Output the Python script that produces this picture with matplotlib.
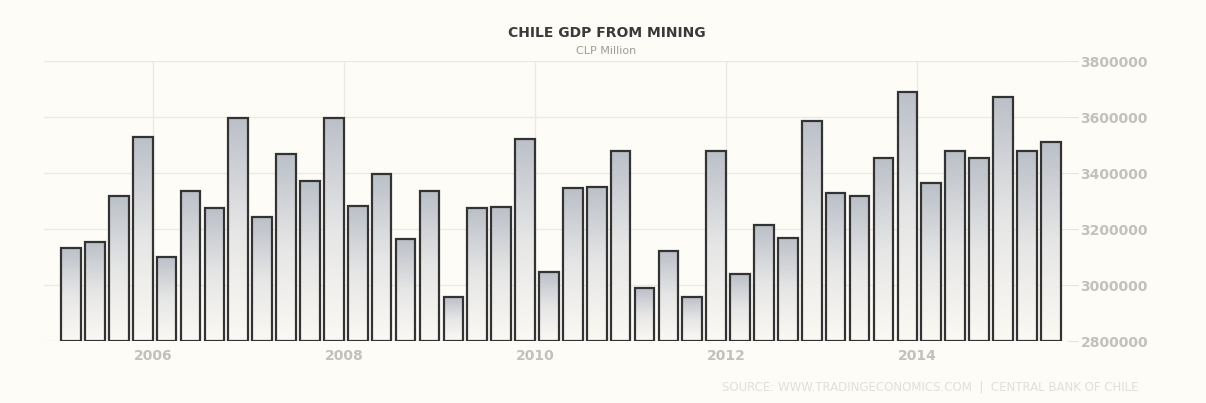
import numpy as np
import matplotlib
matplotlib.use("Agg")
import matplotlib.pyplot as plt
from matplotlib.colors import LinearSegmentedColormap
from matplotlib.ticker import StrMethodFormatter

# quarterly GDP from mining, CLP million (2005Q1 .. 2015Q2)
gdp = [3133000, 3155000, 3319000, 3530000, 3101000, 3337000, 3274000, 3595000,
       3242000, 3469000, 3371000, 3595000, 3283000, 3395000, 3163000, 3334000,
       2957000, 3274000, 3279000, 3523000, 3046000, 3345000, 3350000, 3477000,
       2988000, 3123000, 2957000, 3480000, 3039000, 3214000, 3168000, 3586000,
       3327000, 3318000, 3452000, 3688000, 3364000, 3477000, 3452000, 3670000,
       3477000, 3509000]
years = ["2006", "2008", "2010", "2012", "2014"]
yticks = [2800000, 3000000, 3200000, 3400000, 3600000, 3800000]

bg = "#fdfcf7"
base = 2800000

fig = plt.figure(figsize=(12.06, 4.03), dpi=100, facecolor=bg)
ax = fig.add_axes([0.0365, 0.1538, 0.849, 0.6948], facecolor=bg)

x = np.arange(len(gdp))
heights = np.array(gdp) - base
bars = ax.bar(x, heights, bottom=base, width=0.82, color="none",
              edgecolor="#333333", linewidth=1.6, zorder=3)

# per-bar vertical gradient, grey-blue at the top fading to cream at the bottom
cmap = LinearSegmentedColormap.from_list("g", ["#fbf9f3", "#e6e6e6", "#bbc0c8"])
grad = np.linspace(0, 1, 256).reshape(-1, 1)
for b in bars:
    x0, y0 = b.get_x(), b.get_y()
    im = ax.imshow(grad, extent=[x0, x0 + b.get_width(), y0, y0 + b.get_height()],
                   origin="lower", aspect="auto", cmap=cmap, zorder=2)
    im.set_clip_path(b)

# year ticks sit just right of each Q4 bar
year_pos = np.arange(3, len(gdp), 8)[:len(years)] + 0.42
ax.set_xticks(year_pos)
ax.set_xticklabels(years)
ax.set_yticks(yticks)
ax.yaxis.set_major_formatter(StrMethodFormatter("{x:.0f}"))
ax.set_xlim(-1.13, 41.72)
ax.set_ylim(2800000, 3800000)

ax.yaxis.tick_right()
ax.tick_params(axis="y", length=7, color="#e6e3de", pad=2, labelsize=10,
               labelcolor="#c4c0bc")
ax.tick_params(axis="x", length=0, pad=6, labelsize=10, labelcolor="#c4c0bc")
for lab in ax.get_xticklabels() + ax.get_yticklabels():
    lab.set_fontweight("bold")
ax.grid(True, color="#ebe9e3", linewidth=1, zorder=0)
for s in ax.spines.values():
    s.set_visible(False)

fig.text(0.503, 0.918, "CHILE GDP FROM MINING", ha="center", va="center",
         fontsize=10, fontweight="bold", color="#3a3a3a")
fig.text(0.503, 0.873, "CLP Million", ha="center", va="center",
         fontsize=8, color="#a09c98")
fig.text(0.944, 0.04, "SOURCE: WWW.TRADINGECONOMICS.COM  |  CENTRAL BANK OF CHILE",
         ha="right", va="center", fontsize=8.5, color="#e2dfda")

fig.savefig("out.png", dpi=100, facecolor=bg)
